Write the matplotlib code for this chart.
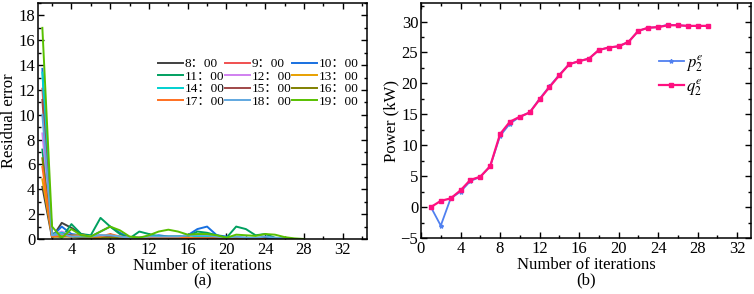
import matplotlib
matplotlib.use("Agg")
import matplotlib.pyplot as plt
from matplotlib.ticker import MultipleLocator

plt.rcParams['font.family'] = ['Liberation Serif', 'Noto Sans CJK SC']
plt.rcParams['mathtext.fontset'] = 'stix'

# ---- data (a) ----
labels_a = ["8：00", "9：00", "10：00", "11：00", "12：00", "13：00",
            "14：00", "15：00", "16：00", "17：00", "18：00", "19：00"]
colors_a = ["#404040", "#f05050", "#1870e0", "#00a060", "#d080f0", "#e8a000",
            "#00d0d0", "#a04848", "#808000", "#ff7020", "#60a8e0", "#58c000"]

s0800 = [4.2, 0.1, 1.3, 0.9, 0.4, 0.2, 0.3, 0.2, 0.1, 0.05, 0.05, 0.05, 0.1, 0.1, 0.1, 0.05, 0.05, 0.05, 0.05, 0.05, 0.05, 0.05, 0.05, 0.1, 0.05, 0.0]
s0900 = [12.1, 0.4, 0.3, 0.2, 0.1, 0.1, 0.1, 0.3, 0.1, 0.05, 0.05, 0.05, 0.05, 0.05, 0.05, 0.05, 0.05, 0.05, 0.05, 0.05, 0.05, 0.0]
s1000 = [13.7, 0.2, 1.0, 0.4, 0.3, 0.2, 0.6, 1.0, 0.5, 0.1, 0.1, 0.2, 0.3, 0.2, 0.2, 0.3, 0.8, 1.0, 0.3, 0.2, 0.1, 0.1, 0.05, 0.05, 0.0]
s1100 = [7.2, 0.5, 0.1, 1.2, 0.4, 0.3, 1.7, 1.0, 0.4, 0.05, 0.6, 0.4, 0.2, 0.2, 0.2, 0.2, 0.6, 0.5, 0.3, 0.1, 1.0, 0.8, 0.3, 0.4, 0.1, 0.05, 0.0]
s1200 = [8.5, 0.3, 0.6, 0.3, 0.2, 0.2, 0.3, 0.2, 0.1, 0.1, 0.1, 0.1, 0.1, 0.1, 0.1, 0.1, 0.1, 0.1, 0.05, 0.05, 0.0]
s1300 = [4.8, 0.2, 0.2, 0.3, 0.3, 0.2, 0.1, 0.3, 0.2, 0.1, 0.1, 0.1, 0.1, 0.1, 0.1, 0.1, 0.1, 0.05, 0.05, 0.0]
s1400 = [13.4, 0.3, 0.5, 0.3, 0.2, 0.2, 0.2, 0.2, 0.1, 0.1, 0.1, 0.2, 0.2, 0.1, 0.1, 0.1, 0.2, 0.2, 0.1, 0.1, 0.1, 0.05, 0.0]
s1500 = [11.2, 0.2, 0.4, 0.3, 0.2, 0.2, 0.2, 0.2, 0.1, 0.1, 0.1, 0.1, 0.1, 0.05, 0.05, 0.05, 0.05, 0.05, 0.05, 0.0]
s1600 = [6.5, 0.2, 0.2, 0.2, 0.1, 0.1, 0.1, 0.1, 0.1, 0.05, 0.05, 0.05, 0.05, 0.05, 0.05, 0.05, 0.0]
s1700 = [5.8, 0.2, 0.3, 0.2, 0.3, 0.2, 0.2, 0.4, 0.2, 0.1, 0.1, 0.1, 0.1, 0.1, 0.1, 0.1, 0.05, 0.05, 0.05, 0.05, 0.05, 0.05, 0.05, 0.0]
s1800 = [10.0, 0.3, 0.4, 0.2, 0.2, 0.2, 0.3, 0.3, 0.2, 0.1, 0.1, 0.2, 0.2, 0.2, 0.2, 0.3, 0.3, 0.3, 0.2, 0.1, 0.2, 0.1, 0.1, 0.2, 0.1, 0.05, 0.0]
s1900 = [17.0, 1.0, 0.1, 0.8, 0.3, 0.2, 0.6, 1.0, 0.7, 0.2, 0.1, 0.3, 0.6, 0.75, 0.6, 0.35, 0.4, 0.4, 0.3, 0.1, 0.35, 0.3, 0.25, 0.4, 0.35, 0.15, 0.05, 0.0]
series_a = [s0800, s0900, s1000, s1100, s1200, s1300, s1400, s1500, s1600, s1700, s1800, s1900]

# ---- data (b) ----
iters_b = list(range(1, 30))
p2 = [0, -3.0, 1.4, 2.5, 4.2, 4.9, 6.6, 11.5, 13.5, 14.6, 15.3, 17.5, 19.5, 21.4, 23.1, 23.6, 24.0, 25.4, 25.8, 26.0, 26.7, 28.5, 29.0, 29.1, 29.5, 29.4, 29.3, 29.3, 29.3]
q2 = [0, 1.0, 1.4, 2.7, 4.4, 4.9, 6.6, 11.8, 13.8, 14.6, 15.3, 17.4, 19.4, 21.3, 23.1, 23.6, 24.0, 25.4, 25.8, 26.0, 26.7, 28.5, 29.0, 29.1, 29.4, 29.4, 29.3, 29.3, 29.3]

fig = plt.figure(figsize=(7.54, 2.94), dpi=100)
ax1 = fig.add_axes([38/754, 1-239/294, (367-38)/754, (239-3)/294])
ax2 = fig.add_axes([421/754, 1-238/294, (751-421)/754, (238-3)/294])

handles = []
for s, c, l in zip(series_a, colors_a, labels_a):
    h, = ax1.plot(range(1, len(s)+1), s, color=c, lw=1.4, label=l)
    handles.append(h)

ax1.set_xlim(0.55, 34.5)
ax1.set_ylim(0, 19)
ax1.xaxis.set_major_locator(MultipleLocator(4))
ax1.xaxis.set_minor_locator(MultipleLocator(2))
ax1.yaxis.set_major_locator(MultipleLocator(2))
ax1.yaxis.set_minor_locator(MultipleLocator(1))
ax1.set_xticks([4, 8, 12, 16, 20, 24, 28, 32])
ax1.set_ylabel("Residual error", fontsize=12, labelpad=1)
ax1.set_xlabel("Number of iterations\n(a)", fontsize=12, labelpad=0, linespacing=0.95)
order = [0, 3, 6, 9, 1, 4, 7, 10, 2, 5, 8, 11]
ax1.legend([handles[i] for i in order], [labels_a[i] for i in order],
           ncol=3, loc='upper right', bbox_to_anchor=(0.998, 0.8), frameon=False,
           fontsize=9.5, handlelength=1.9, handletextpad=0.1, columnspacing=0.05,
           labelspacing=0.02, borderpad=0.1)

ax2.plot(iters_b, p2, color="#5080f0", lw=1.3, marker='*', ms=3, label=r"$p_2^e$")
ax2.plot(iters_b, q2, color="#ff1080", lw=1.6, marker='s', ms=2.5, label=r"$q_2^e$")
ax2.set_xlim(0, 33.4)
ax2.set_ylim(-5, 33)
ax2.xaxis.set_major_locator(MultipleLocator(4))
ax2.xaxis.set_minor_locator(MultipleLocator(2))
ax2.yaxis.set_major_locator(MultipleLocator(5))
ax2.yaxis.set_minor_locator(MultipleLocator(2.5))
ax2.set_ylabel("Power (kW)", fontsize=12, labelpad=1)
ax2.set_xlabel("Number of iterations\n(b)", fontsize=12, labelpad=0, linespacing=0.95)
ax2.legend(loc='upper right', bbox_to_anchor=(0.885, 0.83), frameon=False, fontsize=12,
           handlelength=1.5, handletextpad=0.1, labelspacing=0.2, borderpad=0.1)

for ax in (ax1, ax2):
    ax.tick_params(which='both', direction='in', top=True, right=True, labelsize=12, pad=2)
    ax.tick_params(which='major', length=4, width=1)
    ax.tick_params(which='minor', length=2, width=1)
    for sp in ax.spines.values():
        sp.set_linewidth(1.1)

fig.savefig("out.png", dpi=100)
